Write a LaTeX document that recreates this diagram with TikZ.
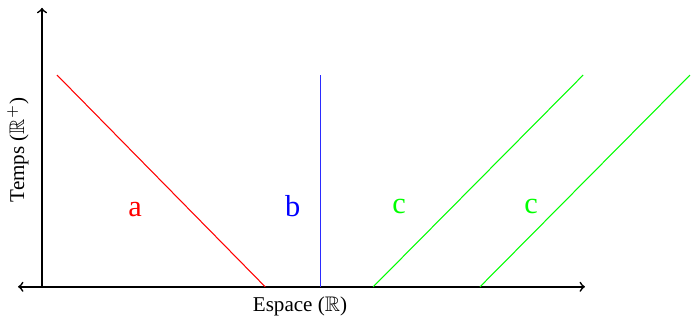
\documentclass[tikz,border=0pt]{standalone}
\usepackage{amsmath,amssymb}
\usepackage{fontspec}
\setmainfont{Liberation Serif}
\usepackage{tikz}
\usetikzlibrary{positioning, calc}
\definecolor{lineBlue}{HTML}{2B2BFF}

\begin{document}
\begin{tikzpicture}[
  axis/.style={thick, black},
  wline/.style={line width=0.5pt},
  lbl/.style={font=\Large, anchor=base}
]
\useasboundingbox (-0.7,-0.55) rectangle (10.95,4.78);
% axes
\coordinate (O) at (0,0);
\coordinate (xl) at (-0.4,0);
\coordinate (xr) at (9.05,0);
\coordinate (yt) at (0,4.65);
\draw[axis, <->] (xl) -- (xr);
\draw[axis, ->] (O) -- (yt);
\node (xlab) at (4.3,-0.33) {Espace ($\mathbb{R}$)};
\node[rotate=90] (ylab) at (-0.4,2.28) {Temps ($\mathbb{R}^+$)};
% lines
\coordinate (a0) at (3.72,0);   \coordinate (a1) at (0.25,3.53);
\coordinate (b0) at (4.635,0);  \coordinate (b1) at (4.635,3.53);
\coordinate (c0) at (5.52,0);   \coordinate (c1) at (9.02,3.53);
\coordinate (d0) at (7.3,0);    \coordinate (d1) at (10.8,3.53);
\draw[wline, red] (a0) -- (a1);
\draw[wline, color=lineBlue] (b0) -- (b1);
\draw[wline, green] (c0) -- (c1);
\draw[wline, green] (d0) -- (d1);
\node[lbl, text=red] (la) at (1.55,1.17) {a};
\node[lbl, text=blue] (lb) at (4.18,1.18) {b};
\node[lbl, text=green] (lc) at (5.95,1.22) {c};
\node[lbl, text=green] (ld) at (8.15,1.22) {c};
\end{tikzpicture}
\end{document}
